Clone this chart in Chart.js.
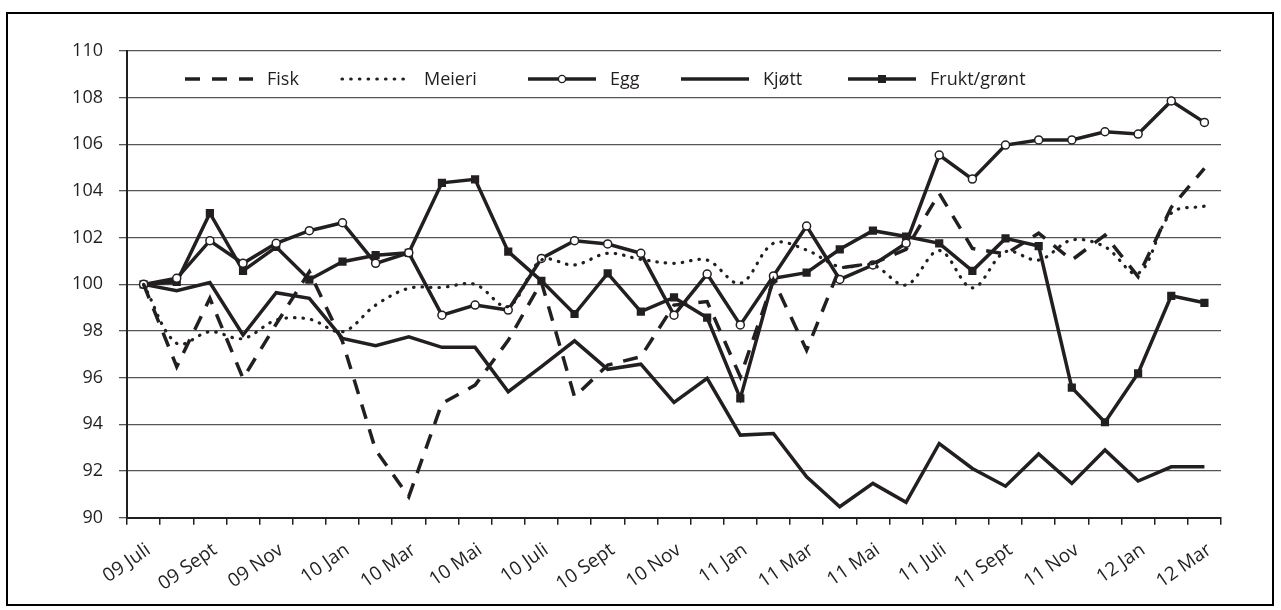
<!DOCTYPE html>
<html>
<head>
<meta charset="utf-8">
<script src="https://cdn.jsdelivr.net/npm/chart.js@4"></script>
<style>
  html, body { margin: 0; padding: 0; background: #fff; }
  #wrap { position: relative; width: 1281px; height: 610px; }
  #frame { position: absolute; left: 6px; top: 12px; width: 1264px; height: 590px; border: 2px solid #000; pointer-events: none; }
  canvas { position: absolute; left: 0; top: 0; }
</style>
</head>
<body>
<div id="wrap">
  <canvas id="chart" width="1281" height="610"></canvas>
  <div id="frame"></div>
</div>
<script>
const months = [
  '09 Juli', '09 Aug', '09 Sept', '09 Okt', '09 Nov', '09 Des',
  '10 Jan', '10 Feb', '10 Mar', '10 Apr', '10 Mai', '10 Juni',
  '10 Juli', '10 Aug', '10 Sept', '10 Okt', '10 Nov', '10 Des',
  '11 Jan', '11 Feb', '11 Mar', '11 Apr', '11 Mai', '11 Juni',
  '11 Juli', '11 Aug', '11 Sept', '11 Okt', '11 Nov', '11 Des',
  '12 Jan', '12 Feb', '12 Mar',
];

const fisk = [100, 96.47, 99.4, 95.97, 98.3, 100.54, 97.55, 92.9, 90.9, 94.9, 95.68, 97.6,
  100.1, 95.18, 96.54, 96.9, 99.11, 99.26, 96.04, 100.18, 97.18, 100.7, 100.9, 101.5,
  103.9, 101.54, 101.3, 102.19, 101.04, 102.11, 100.33, 103.3, 104.97];

const meieri = [100, 97.47, 97.97, 97.68, 98.47, 98.51, 97.97, 99.11, 99.83, 99.87, 100.0, 99.05,
  101.04, 100.83, 101.33, 101.07, 100.9, 101.04, 100.04, 101.76, 101.47, 100.75, 100.83, 99.97,
  101.45, 99.85, 101.4, 101.04, 101.9, 101.61, 100.47, 103.05, 103.35];

const egg = [100, 100.26, 101.87, 100.9, 101.76, 102.3, 102.64, 100.9, 101.35, 98.68, 99.11, 98.9,
  101.11, 101.87, 101.73, 101.33, 98.68, 100.44, 98.26, 100.36, 102.5, 100.21, 100.83, 101.76,
  105.54, 104.51, 105.97, 106.19, 106.19, 106.54, 106.44, 107.86, 106.94];

const kjott = [100, 99.73, 100.08, 97.83, 99.64, 99.4, 97.68, 97.37, 97.75, 97.3, 97.3, 95.4,
  96.47, 97.58, 96.36, 96.58, 94.94, 95.97, 93.54, 93.61, 91.75, 90.47, 91.47, 90.66,
  93.18, 92.11, 91.35, 92.73, 91.47, 92.9, 91.57, 92.18, 92.18];

const frukt = [100, 100.1, 103.05, 100.58, 101.6, 100.2, 100.97, 101.25, 101.35, 104.35, 104.5, 101.4,
  100.15, 98.73, 100.47, 98.83, 99.44, 98.57, 95.11, 100.26, 100.5, 101.5, 102.3, 102.05,
  101.76, 100.58, 101.97, 101.64, 95.57, 94.09, 96.19, 99.51, 99.21];

const ink = '#231f20';
const fontFamily = '"Open Sans", "Noto Sans", sans-serif';

// legend sits inside the plot, between the 110 and 108 gridlines
const legendOffsets = [58, 215, 401, 554, 721];
const innerLegend = {
  id: 'innerLegend',
  afterDraw(chart) {
    const { ctx, chartArea } = chart;
    const y = chartArea.top + 28;
    ctx.save();
    ctx.font = '18px ' + fontFamily;
    ctx.textBaseline = 'middle';
    chart.data.datasets.forEach((ds, i) => {
      const x = chartArea.left + legendOffsets[i];
      ctx.strokeStyle = ink;
      ctx.lineWidth = ds.borderWidth;
      ctx.lineCap = ds.legendCap || 'butt';
      ctx.setLineDash(ds.legendDash || []);
      ctx.beginPath();
      ctx.moveTo(x, y);
      ctx.lineTo(x + 68, y);
      ctx.stroke();
      ctx.setLineDash([]);
      const cx = x + 34;
      if (ds.pointStyle === 'circle' && ds.pointRadius) {
        ctx.beginPath();
        ctx.arc(cx, y, 3.6, 0, Math.PI * 2);
        ctx.fillStyle = '#fff';
        ctx.fill();
        ctx.lineWidth = 1.4;
        ctx.stroke();
      } else if (ds.pointStyle === 'rect' && ds.pointRadius) {
        ctx.fillStyle = ink;
        ctx.fillRect(cx - 4, y - 4, 8, 8);
      }
      ctx.fillStyle = ink;
      ctx.fillText(ds.label, x + 82, y + 1);
    });
    ctx.restore();
  },
};

function draw() {
  new Chart(document.getElementById('chart'), {
    type: 'line',
    data: {
      labels: months,
      datasets: [
        { label: 'Fisk', data: fisk, borderColor: ink, borderWidth: 3.5, borderDash: [15, 11],
          legendDash: [15, 12], pointRadius: 0, tension: 0 },
        { label: 'Meieri', data: meieri, borderColor: ink, borderWidth: 3.2, borderDash: [0.5, 8],
          borderCapStyle: 'round', legendDash: [0.5, 8.2], legendCap: 'round', pointRadius: 0, tension: 0.35 },
        { label: 'Egg', data: egg, borderColor: ink, borderWidth: 3.5, pointStyle: 'circle',
          pointRadius: 4, pointBorderWidth: 1.5, pointBackgroundColor: '#fff', pointBorderColor: ink, tension: 0 },
        { label: 'Kjøtt', data: kjott, borderColor: ink, borderWidth: 3.5, pointRadius: 0, tension: 0 },
        { label: 'Frukt/grønt', data: frukt, borderColor: ink, borderWidth: 3.5, pointStyle: 'rect',
          pointRadius: 5.8, pointBorderWidth: 0, pointBackgroundColor: ink, tension: 0 },
      ],
    },
    options: {
      responsive: false,
      animation: false,
      layout: { padding: { left: 72, right: 60, top: 51, bottom: 0 } },
      scales: {
        x: {
          offset: true,
          grid: { offset: true, drawOnChartArea: false, color: ink, lineWidth: 1.5, tickLength: 7 },
          border: { color: ink, width: 2 },
          ticks: {
            autoSkip: false, maxRotation: 35, minRotation: 35, padding: 14, labelOffset: 5,
            color: ink, font: { family: fontFamily, size: 19 },
            callback: (v, i) => (i % 2 ? '' : months[i]),
          },
          afterFit(scale) {
            scale.height = 92.3;
            scale.paddingLeft = 0;
            scale.paddingRight = 0;
          },
        },
        y: {
          min: 90, max: 110,
          grid: { color: '#555', lineWidth: 1.3, tickLength: 8 },
          border: { color: ink, width: 2 },
          ticks: { stepSize: 2, padding: 16, color: ink, font: { family: fontFamily, size: 18 } },
          afterFit(scale) { scale.width = 55; },
        },
      },
      plugins: { legend: { display: false }, tooltip: { enabled: false } },
    },
    plugins: [innerLegend],
  });
}

document.fonts.load('18px "Open Sans"').then(draw, draw);
</script>
</body>
</html>
